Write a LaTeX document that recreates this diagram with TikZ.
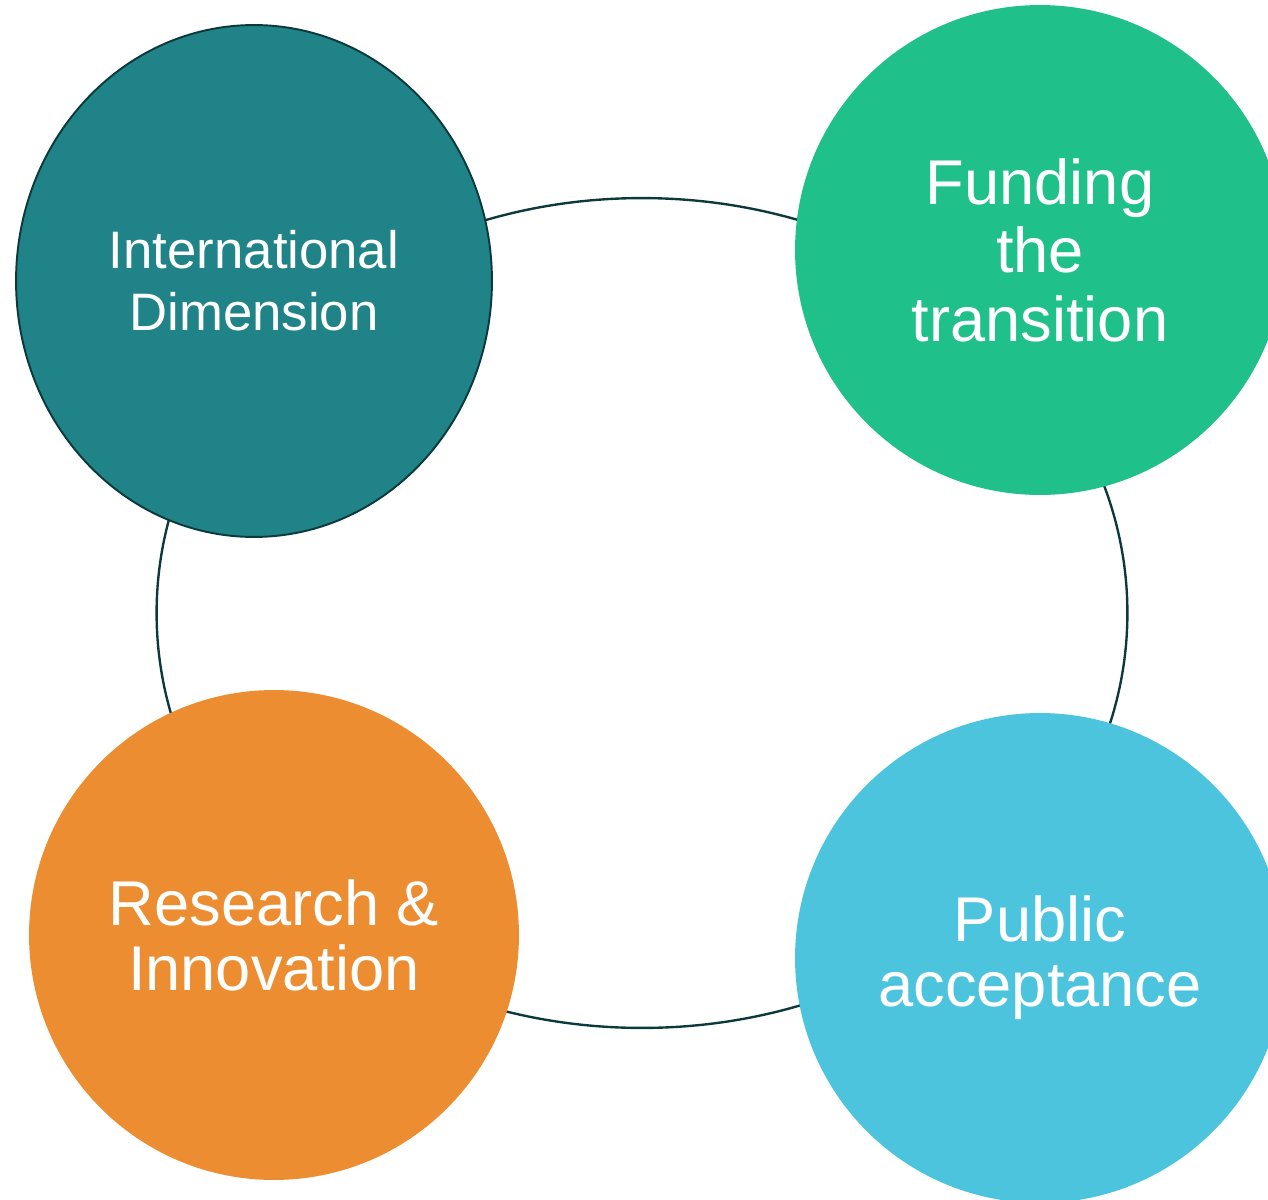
\documentclass[tikz,border=0pt]{standalone}
\usepackage{fontspec}
\setmainfont{Liberation Sans}
\usepackage{xcolor}
\usetikzlibrary{positioning,shapes.geometric}
\definecolor{tealc}{RGB}{31,131,136}
\definecolor{greenc}{RGB}{32,192,138}
\definecolor{orangec}{RGB}{237,141,49}
\definecolor{bluec}{RGB}{76,196,222}
\definecolor{ringc}{RGB}{12,58,60}

\begin{document}
\begin{tikzpicture}[x=0.02cm,y=-0.02cm,
    bubble/.style={circle,minimum size=9.8cm,inner sep=0pt,align=center,text=white},
    loopline/.style={ellipse,draw=ringc,line width=1.35pt,minimum width=19.42cm,minimum height=16.6cm}]
  \useasboundingbox (0,0) rectangle (1268,1200);
  \clip (0,0) rectangle (1268,1200);
  % the ring behind the four themes
  \node[loopline] (loop) at (642,613) {};
  \node[bubble,ellipse,fill=tealc,draw=ringc,line width=1.1pt,minimum width=9.52cm,minimum height=10.24cm,
        font=\fontsize{30}{35.3}\selectfont] (intl) at (254,281) {International\\Dimension};
  \node[bubble,fill=greenc,font=\fontsize{36}{39}\selectfont] (fund) at (1040,250) {Funding\\the\\transition};
  \node[bubble,fill=orangec,font=\fontsize{36}{37}\selectfont] (research) at (274,935) {Research \&\\Innovation};
  \node[bubble,fill=bluec,font=\fontsize{36}{37}\selectfont] (public) at (1040,958) {Public\\acceptance};
\end{tikzpicture}
\end{document}
